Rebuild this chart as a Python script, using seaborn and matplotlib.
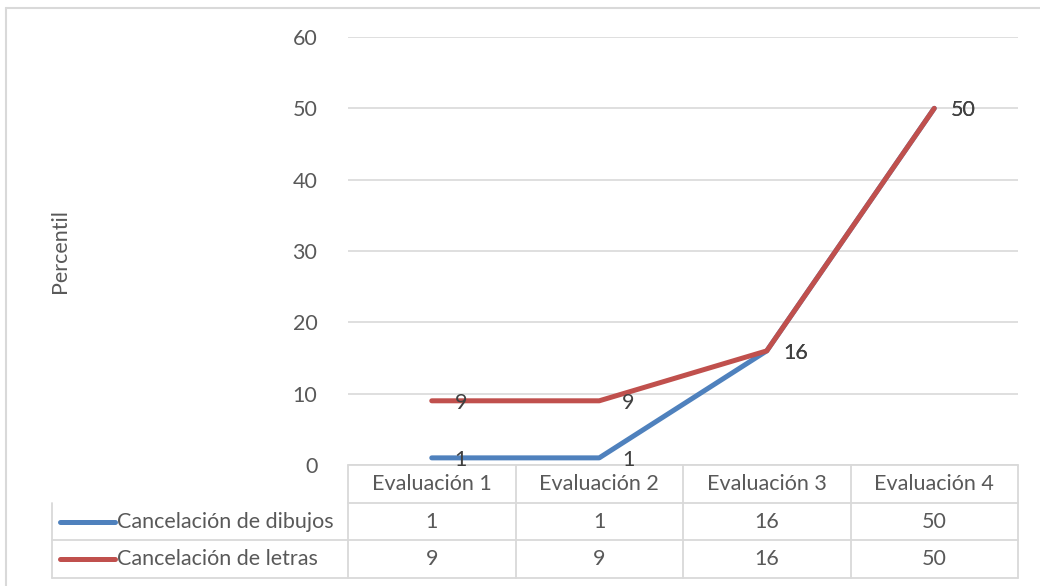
import matplotlib
matplotlib.use("Agg")
import matplotlib.pyplot as plt
import matplotlib.transforms as mtransforms
import seaborn as sns
import pandas as pd

# Data
categorias = ["Evaluación 1", "Evaluación 2", "Evaluación 3", "Evaluación 4"]
series_nombres = ["Cancelación de dibujos", "Cancelación de letras"]
dibujos = [1, 1, 16, 50]
letras = [9, 9, 16, 50]
colores = ["#4F81BD", "#C0504D"]

sns.set_theme(style="white")
plt.rcParams["font.family"] = ["Lato", "DejaVu Sans"]
fs = 15.5

df = pd.DataFrame({
    "cat": categorias * 2,
    "pos": [i + 0.5 for i in range(4)] * 2,
    "valor": dibujos + letras,
    "serie": [series_nombres[0]] * 4 + [series_nombres[1]] * 4,
})

fig = plt.figure(figsize=(10.4, 5.86), dpi=100)
ax = fig.add_axes([348 / 1040, 1 - 465 / 586, 670 / 1040, 428 / 586])

sns.lineplot(data=df, x="pos", y="valor", hue="serie", palette=colores,
             linewidth=3.6, ax=ax, legend=False, sort=False,
             solid_capstyle="round", solid_joinstyle="round", zorder=3)

ax.set_xlim(0, 4)
ax.set_ylim(0, 60)
ax.set_yticks(range(0, 61, 10))
ax.set_xticks([])
ax.grid(axis="y", color="#D9D9D9", linewidth=1.2)
for s in ax.spines.values():
    s.set_visible(False)
ax.tick_params(axis="y", length=0, pad=22, labelsize=fs, labelcolor="#595959")
ax.set_xlabel("")
ax.set_ylabel("")

# data labels to the right of each point
for vals in (dibujos, letras):
    for i, v in enumerate(vals):
        ax.annotate(str(v), (i + 0.5, v), xytext=(29, -2), textcoords="offset pixels",
                    ha="center", va="center", fontsize=fs, color="#404040", zorder=4)

# y axis title
ax.text(-0.43, 0.5, "Percentil", transform=ax.transAxes, rotation=90,
        ha="center", va="center", fontsize=fs, color="#595959")

# data table under the plot
trans = mtransforms.blended_transform_factory(ax.transData, ax.transAxes)
rh = 37.7 / 428
left = -1.767
gcol = "#D9D9D9"
lkw = dict(color=gcol, linewidth=1.3, transform=trans, clip_on=False)

ax.plot([0, 4], [0, 0], **lkw)
for k in range(1, 4):
    ax.plot([0 if k == 1 else left, 4], [-k * rh, -k * rh], **lkw)
for i in range(5):
    ax.plot([i, i], [0, -3 * rh], **lkw)
ax.plot([left, left], [-rh, -3 * rh], **lkw)

for i, c in enumerate(categorias):
    ax.text(i + 0.5, -0.5 * rh, c, transform=trans, ha="center", va="center",
            fontsize=fs, color="#595959")

for r, (nombre, vals, col) in enumerate(zip(series_nombres, [dibujos, letras], colores)):
    yc = -(r + 1.5) * rh
    ax.plot([-1.719, -1.391], [yc, yc], color=col, linewidth=3.6,
            solid_capstyle="round", transform=trans, clip_on=False)
    ax.text(-1.379, yc, nombre, transform=trans, ha="left", va="center",
            fontsize=fs, color="#595959")
    for i, v in enumerate(vals):
        ax.text(i + 0.5, yc, str(v), transform=trans, ha="center", va="center",
                fontsize=fs, color="#595959")

# chart area border (left and top visible)
fig.add_artist(plt.Line2D([6 / 1040, 6 / 1040], [0, 1 - 8 / 586], color=gcol, linewidth=1.5))
fig.add_artist(plt.Line2D([6 / 1040, 1], [1 - 8 / 586, 1 - 8 / 586], color=gcol, linewidth=1.5))

fig.savefig("out.png", dpi=100)
